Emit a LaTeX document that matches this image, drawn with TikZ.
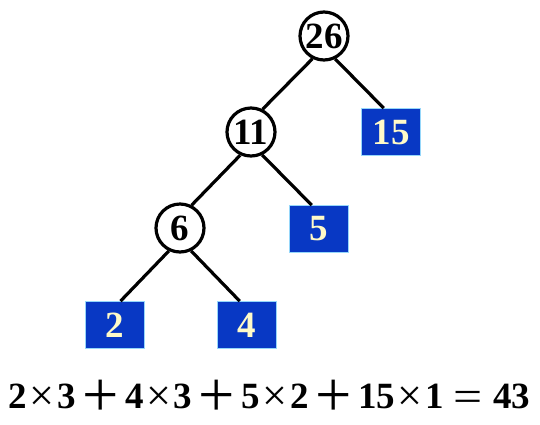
\documentclass[tikz,border=0pt]{standalone}
\usepackage{fontspec}
\usepackage{graphicx}
\setmainfont{Liberation Serif}
\definecolor{leafblue}{RGB}{8,56,196}
\definecolor{leafedge}{RGB}{150,215,250}
\definecolor{leaftext}{RGB}{255,250,200}
\newcommand{\wt}[1]{\fontsize{37}{40}\selectfont\bfseries #1}
\newdimen\opL \newdimen\opR \newdimen\opT \newdimen\opB \newdimen\opW \newdimen\opH
% operator: char, box width, ink width, ink height, ink centre (all pt)
\newcommand{\opsym}[5]{%
  \begingroup\mdseries\fontsize{40}{40}\selectfont
  \setbox0=\hbox{#1}%
  \count255=\XeTeXcharglyph`#1\relax
  \opL=\XeTeXglyphbounds1 \count255
  \opR=\XeTeXglyphbounds3 \count255
  \opT=\XeTeXglyphbounds2 \count255
  \opB=\XeTeXglyphbounds4 \count255
  \opW=\wd0 \advance\opW by -\opL \advance\opW by -\opR
  \opH=\opT \advance\opH by \opB
  \pgfmathsetmacro\opsx{#3/\opW}%
  \pgfmathsetmacro\opsy{#4/\opH}%
  \pgfmathsetlengthmacro\oprz{#5-\opsy*(\opT-\opB)/2}%
  \makebox[#2pt][c]{\raisebox{\oprz}{\scalebox{\opsx}[\opsy]{#1}}}%
  \endgroup}
\newcommand{\tms}{\opsym{×}{30}{18}{18}{12.7}}
\newcommand{\pls}{\opsym{+}{49.5}{30}{30}{12.7}}
\newcommand{\eqs}{\opsym{=}{49.5}{24}{11}{11.5}}
\tikzset{
            inner/.style={draw, circle, line width=3.2pt, minimum size=48pt, inner sep=0pt},
            leaf/.style={draw=leafedge, line width=0.8pt, fill=leafblue, text=leaftext,
                         minimum width=59pt, minimum height=47pt, inner sep=0pt}
        }

\begin{document}
\begin{tikzpicture}[
                    x=1pt, y=-1pt,
                    every node/.style={font=\wt{}},
                    line width=3.2pt
                    ]
                \useasboundingbox (0,0) rectangle (540,424);
                \node[inner] (n26) at (324,36) {26};
                \node[inner] (n11) at (251,132) {11};
                \node[leaf] (n15) at (391,132) {15};
                \node[inner] (n6) at (180,228) {6};
                \node[leaf] (n5) at (319,229) {5};
                \node[leaf] (n2) at (115,325) {2};
                \node[leaf] (n4) at (247,325) {4};
                \draw (n26.-117) -- (n11.63);
                \draw (n26.-64) -- (n15.107);
                \draw (n11.-115) -- (n6.63);
                \draw (n11.-64) -- (n5.107);
                \draw (n6.-116) -- (n2.77);
                \draw (n6.-64) -- (n4.107);
                \node[anchor=base west, inner sep=0pt] (sum) at (7,408)
                    {2\tms 3\pls 4\tms 3\pls 5\tms 2\pls 15\tms 1\eqs 43};
            \end{tikzpicture}
\end{document}
